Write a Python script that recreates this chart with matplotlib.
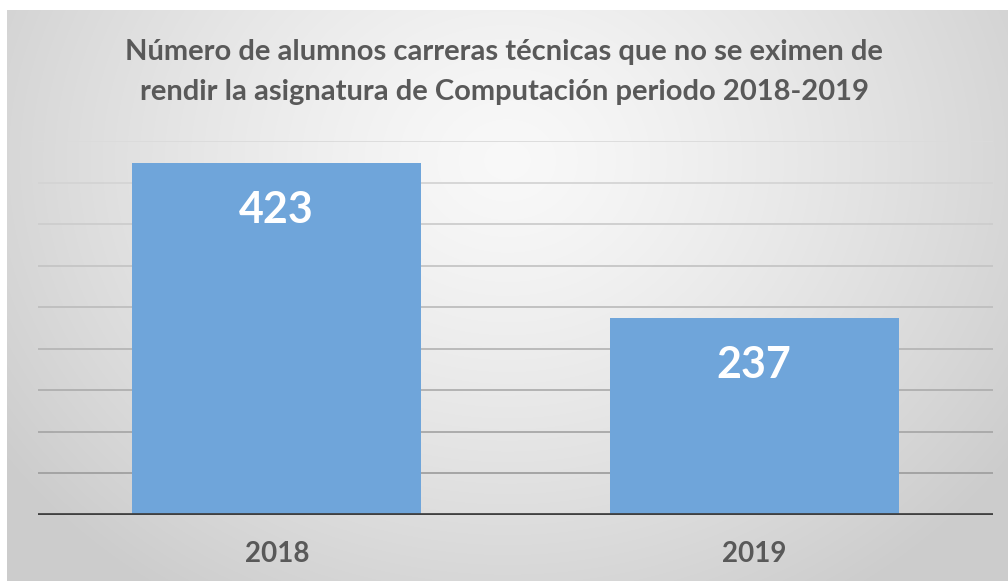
import matplotlib
matplotlib.use("Agg")
import matplotlib.pyplot as plt
import numpy as np

# data
years = ["2018", "2019"]
students = [423, 237]
grid_values = [50, 100, 150, 200, 250, 300, 350, 400, 450]

title = ("Número de alumnos carreras técnicas que no se eximen de\n"
         "rendir la asignatura de Computación periodo 2018-2019")

W, H = 1008, 581
fig = plt.figure(figsize=(W / 100, H / 100), dpi=100)
fig.patch.set_facecolor("white")

# radial gradient background of the chart area
bg = fig.add_axes([7 / W, 0, 1 - 7 / W, 1 - 10 / H])
bg.set_axis_off()
yy, xx = np.mgrid[0:H - 10, 0:W - 7]
dist = np.sqrt(((xx - 500) / 1.0) ** 2 + ((yy - 150) / 0.85) ** 2)
t = np.clip(dist / 620, 0, 1)
light, dark = 0.975, 0.80
shade = light + (dark - light) * t ** 1.3
bg.imshow(np.dstack([shade] * 3), aspect="auto", extent=[0, 1, 0, 1], zorder=0)
bg.set_xlim(0, 1)
bg.set_ylim(0, 1)

ax = fig.add_axes([38 / W, (H - 515) / H, (993 - 38) / W, (515 - 141) / H])
ax.patch.set_alpha(0)

x = np.arange(len(years))
# gridlines get lighter towards the top, like the reference
for g in grid_values:
    frac = g / max(grid_values)
    c = 0.60 + (0.86 - 0.60) * frac
    ax.axhline(g, color=(c, c, c), lw=1.3, zorder=1)
bars = ax.bar(x, students, width=0.605, color="#6fa5da", zorder=2)
ax.axhline(0, color="#404040", lw=2.7, zorder=3)

for rect, v in zip(bars, students):
    ax.annotate(str(v), (rect.get_x() + rect.get_width() / 2, v),
                xytext=(0, -47), textcoords="offset pixels",
                ha="center", va="center", color="white",
                fontsize=31, fontweight="bold", family="Lato", zorder=4)

ax.set_xlim(-0.5, len(years) - 0.5)
ax.set_ylim(0, 450)
ax.set_yticks([])
ax.set_xticks(x)
ax.set_xticklabels(years, fontsize=20, fontweight="bold", family="Lato", color="#595959")
ax.tick_params(axis="x", length=0, pad=19)
for s in ax.spines.values():
    s.set_visible(False)

fig.text(0.5, (H - 72) / H, title, ha="center", va="center", fontsize=21,
         fontweight="bold", family="Lato", color="#595959", linespacing=1.65)

fig.savefig("out.png", dpi=100)
